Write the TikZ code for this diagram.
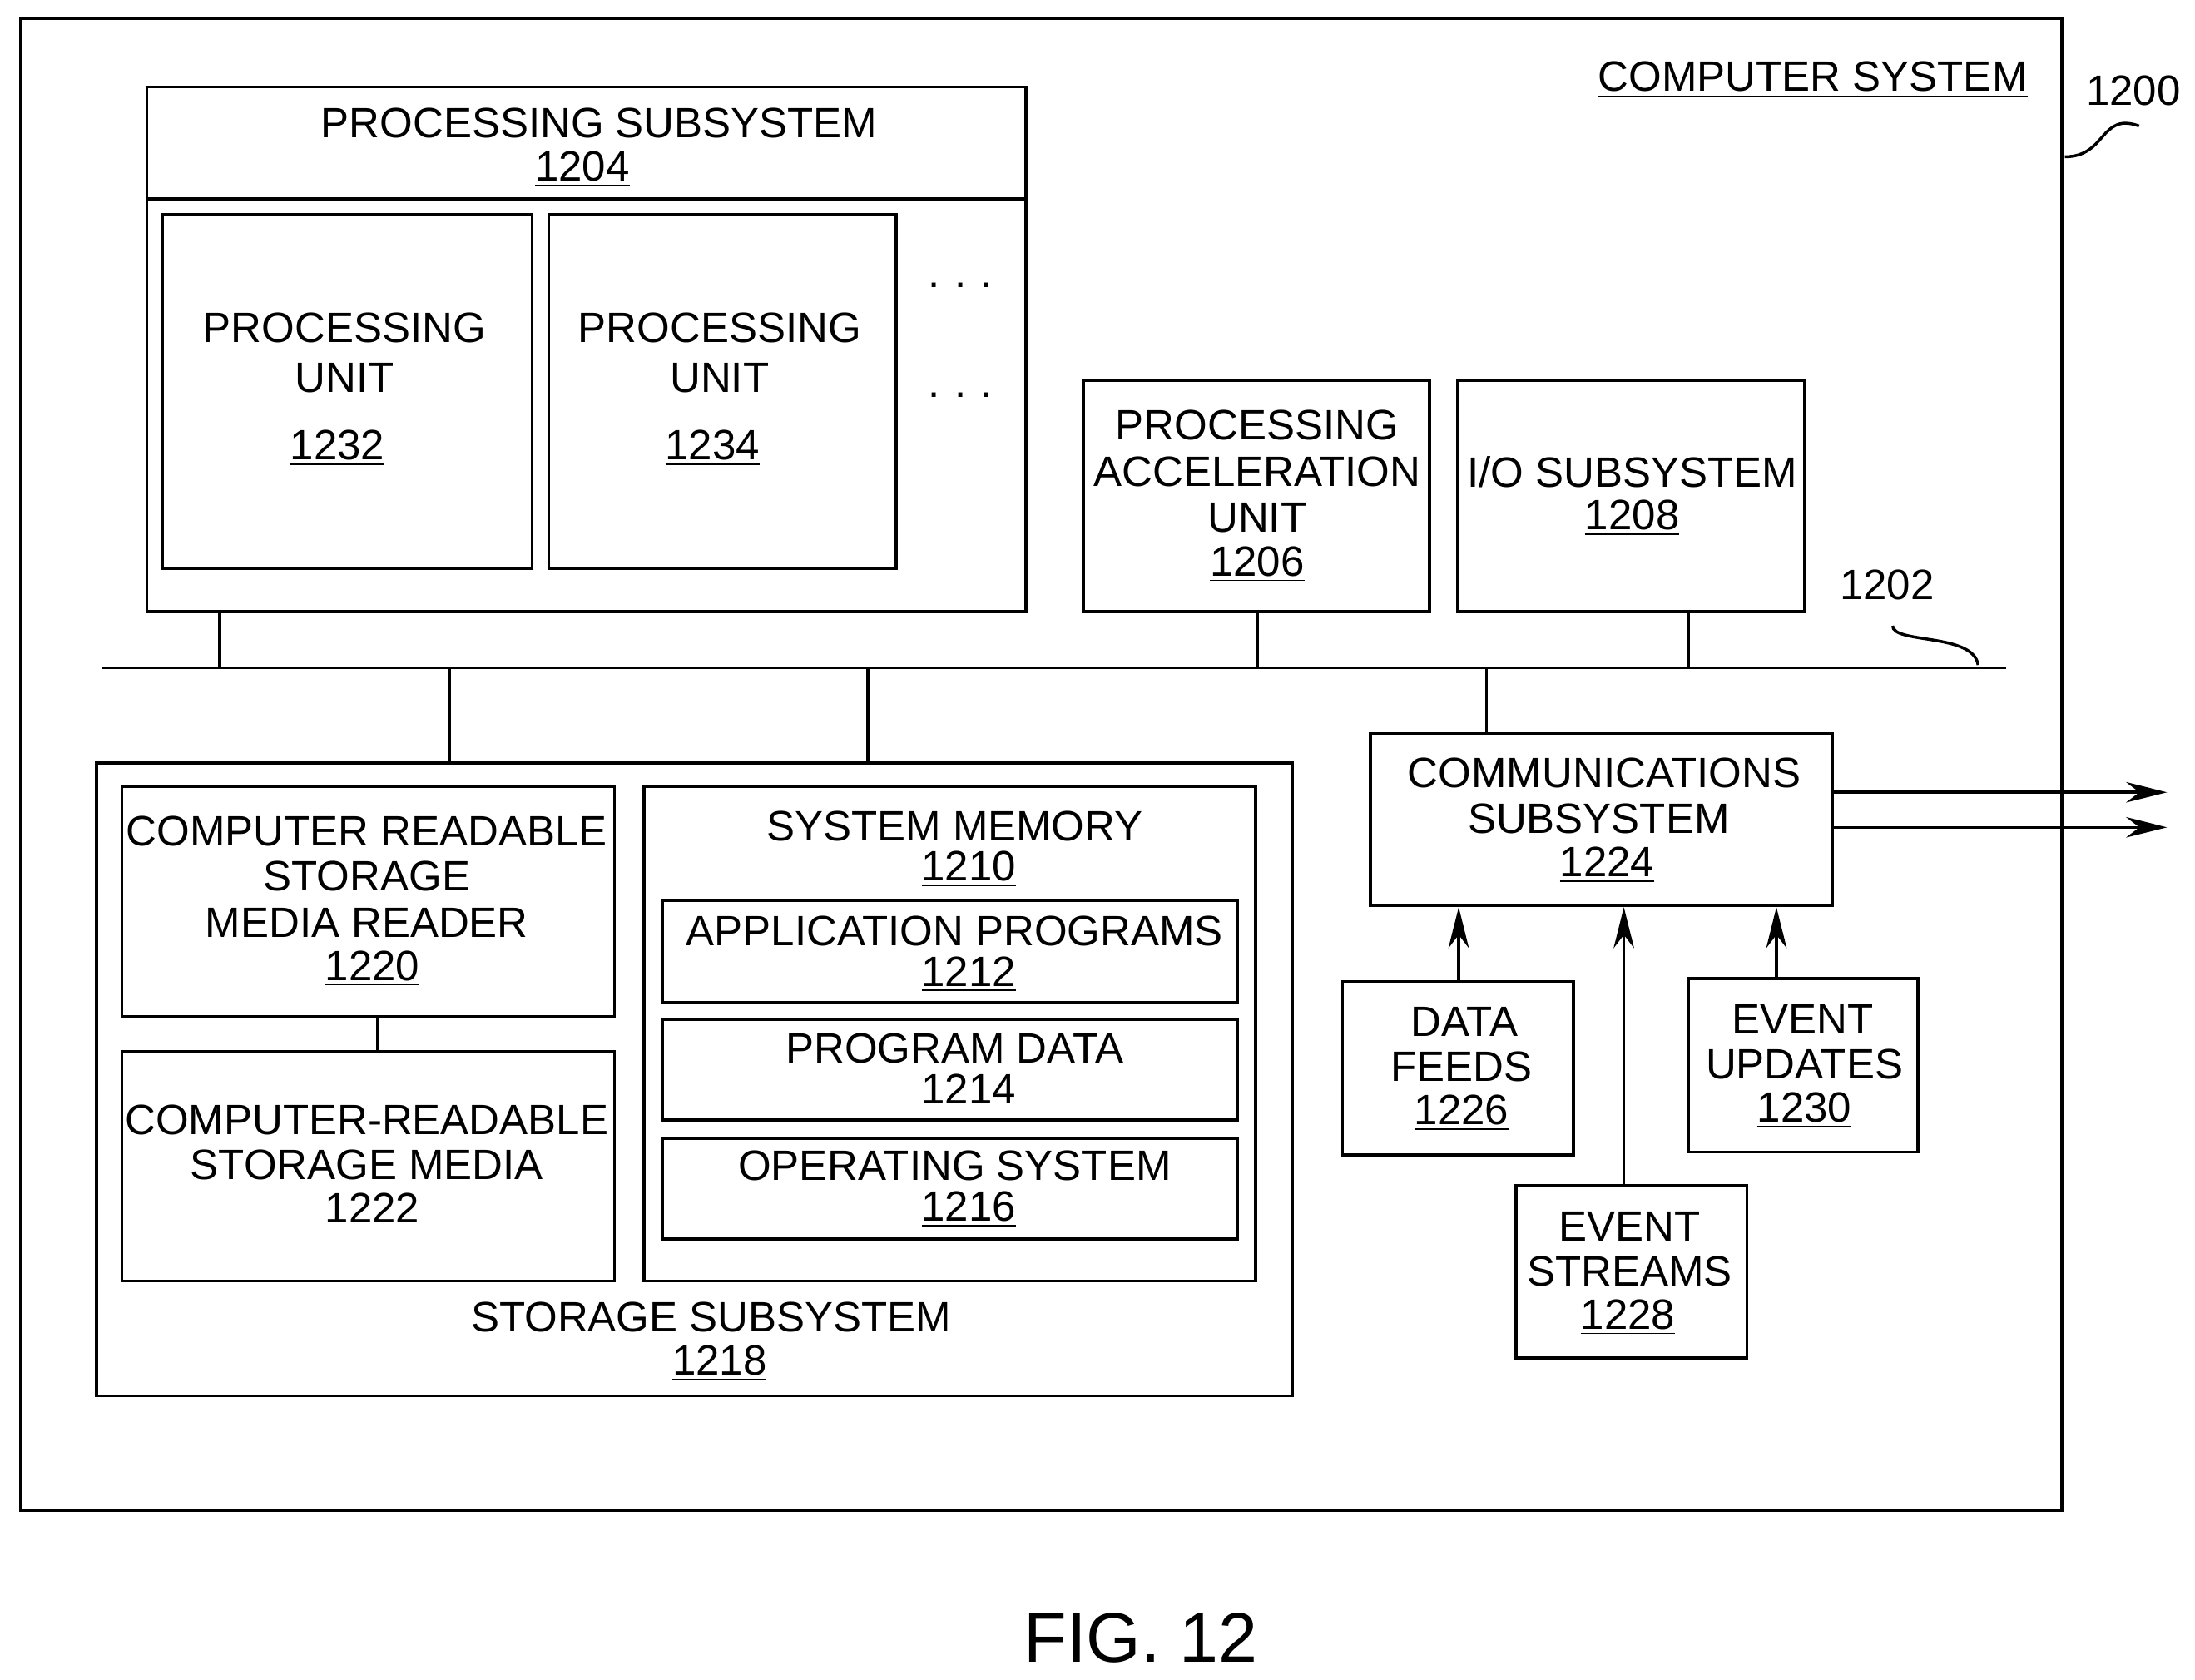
\documentclass[tikz,border=0pt]{standalone}
\usepackage{fontspec}
\setmainfont{Liberation Sans}
\usetikzlibrary{arrows.meta,fit}
\tikzset{bx/.style={draw,line width=1pt,inner sep=0pt}}
\tikzset{tx/.style={inner sep=0pt,font=\fontsize{14.5}{15.8}\selectfont}}
\tikzset{ln/.style={line width=1pt}}
\tikzset{ar/.style={line width=1pt,-{Stealth[length=14pt,width=7pt]}}}
\newcommand{\ul}[1]{\underline{#1}}

\begin{document}
\begin{tikzpicture}[x=0.01682cm,y=-0.01682cm]
                \useasboundingbox (0,0) rectangle (1568,1200);
                % outer frame
                \node[bx,fit={(15,13)(1473,1079)}] (cs) {};
                \node[tx] (cst) at (1295,57) {\ul{COMPUTER SYSTEM}};
                \node[tx] (n1200) at (1524,65) {1200};
                \draw[ln] (1528,90) .. controls (1500,80) and (1505,112) .. (1475,112);
                % processing subsystem
                \node[bx,fit={(105,62)(733,437)}] (pss) {};
                \draw[ln] (pss.west |- 0,142) -- (pss.east |- 0,142);
                \node[tx] (psst) at (428,88) {PROCESSING SUBSYSTEM};
                \node[tx] (n1204) at (416,121) {\ul{1204}};
                \node[bx,fit={(116,153)(380,406)}] (pu1) {};
                \node[tx] at (246,234) {PROCESSING};
                \node[tx] at (246,270) {UNIT};
                \node[tx] at (241,320) {\ul{1232}};
                \node[bx,fit={(392,153)(640,406)}] (pu2) {};
                \node[tx] at (514,234) {PROCESSING};
                \node[tx] at (514,270) {UNIT};
                \node[tx] at (509,320) {\ul{1234}};
                \node[tx] (dots1) at (686,204) {.\,\,.\,\,.};
                \node[tx] (dots2) at (686,282) {.\,\,.\,\,.};
                % acceleration and I/O
                \node[bx,fit={(774,272)(1021,437)}] (pau) {};
                \node[tx] at (898,304) {PROCESSING};
                \node[tx] at (898,337) {ACCELERATION};
                \node[tx] at (898,370) {UNIT};
                \node[tx] at (898,403) {\ul{1206}};
                \node[bx,fit={(1041,272)(1289,437)}] (io) {};
                \node[tx] at (1166,337) {I/O SUBSYSTEM};
                \node[tx] at (1166,370) {\ul{1208}};
                % bus
                \coordinate (busL) at (73,477);
                \coordinate (busR) at (1433,477);
                \draw[ln] (busL) -- (busR);
                \node[tx] (n1202) at (1348,418) {1202};
                \draw[ln] (1352,447) .. controls (1352,460) and (1410,452) .. (1413,475);
                \coordinate (b1) at (157,477);
                \coordinate (b2) at (898,477);
                \coordinate (b3) at (1206,477);
                \coordinate (b4) at (321,477);
                \coordinate (b5) at (620,477);
                \coordinate (b6) at (1062,477);
                \draw[ln] (pss.south -| b1) -- (b1);
                \draw[ln] (pau.south -| b2) -- (b2);
                \draw[ln] (io.south -| b3) -- (b3);
                % storage subsystem
                \node[bx,fit={(69,545)(923,997)}] (ss) {};
                \draw[ln] (b4) -- (ss.north -| b4);
                \draw[ln] (b5) -- (ss.north -| b5);
                \node[tx] at (508,941) {STORAGE SUBSYSTEM};
                \node[tx] at (514,974) {\ul{1218}};
                \node[bx,fit={(87,562)(439,726)}] (crr) {};
                \node[tx] at (262,594) {COMPUTER READABLE};
                \node[tx] at (262,626) {STORAGE};
                \node[tx] at (262,659) {MEDIA READER};
                \node[tx] at (266,692) {\ul{1220}};
                \node[bx,fit={(87,751)(439,915)}] (crm) {};
                \draw[ln] (crr.south -| 270,0) -- (crm.north -| 270,0);
                \node[tx] at (262,800) {COMPUTER-READABLE};
                \node[tx] at (262,832) {STORAGE MEDIA};
                \node[tx] at (266,865) {\ul{1222}};
                \node[bx,fit={(460,562)(897,915)}] (sm) {};
                \node[tx] at (682,590) {SYSTEM MEMORY};
                \node[tx] at (692,621) {\ul{1210}};
                \node[bx,fit={(473,643)(884,716)}] (ap) {};
                \node[tx] at (682,665) {APPLICATION PROGRAMS};
                \node[tx] at (692,696) {\ul{1212}};
                \node[bx,fit={(473,728)(884,800)}] (pd) {};
                \node[tx] at (682,749) {PROGRAM DATA};
                \node[tx] at (692,780) {\ul{1214}};
                \node[bx,fit={(473,813)(884,885)}] (os) {};
                \node[tx] at (682,833) {OPERATING SYSTEM};
                \node[tx] at (692,864) {\ul{1216}};
                % communications
                \node[bx,fit={(979,524)(1309,647)}] (com) {};
                \draw[ln] (b6) -- (com.north -| b6);
                \node[tx] at (1146,552) {COMMUNICATIONS};
                \node[tx] at (1142,585) {SUBSYSTEM};
                \node[tx] at (1148,618) {\ul{1224}};
                \coordinate (o1) at (1548,566);
                \coordinate (o2) at (1548,591);
                \draw[ar] (com.east |- o1) -- (o1);
                \draw[ar] (com.east |- o2) -- (o2);
                \node[bx,fit={(959,701)(1124,825)}] (df) {};
                \node[tx] at (1046,730) {DATA};
                \node[tx] at (1044,762) {FEEDS};
                \node[tx] at (1044,795) {\ul{1226}};
                \node[bx,fit={(1083,847)(1248,970)}] (es) {};
                \node[tx] at (1164,876) {EVENT};
                \node[tx] at (1164,908) {STREAMS};
                \node[tx] at (1163,941) {\ul{1228}};
                \node[bx,fit={(1206,699)(1370,823)}] (eu) {};
                \node[tx] at (1288,728) {EVENT};
                \node[tx] at (1289,760) {UPDATES};
                \node[tx] at (1289,793) {\ul{1230}};
                \draw[ar] (df.north -| 1042,0) -- (com.south -| 1042,0);
                \draw[ar] (es.north -| 1160,0) -- (com.south -| 1160,0);
                \draw[ar] (eu.north -| 1269,0) -- (com.south -| 1269,0);
                % caption
                \node[inner sep=0pt,font=\fontsize{24}{26}\selectfont] (fig) at (815,1170) {FIG. 12};
            \end{tikzpicture}
\end{document}
